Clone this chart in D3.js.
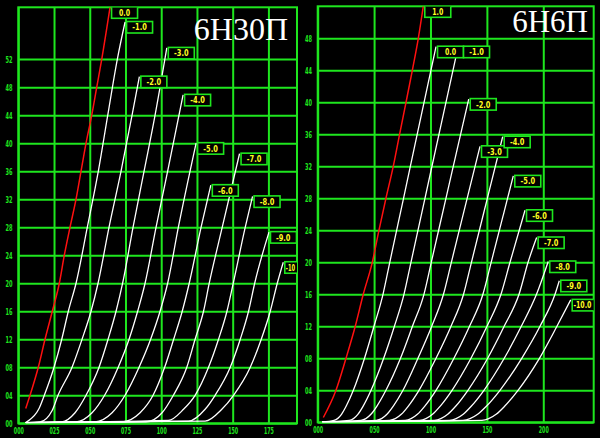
<!DOCTYPE html>
<html><head><meta charset="utf-8">
<script src="https://cdn.jsdelivr.net/npm/d3@7"></script>
<style>html,body{margin:0;padding:0;background:#000;overflow:hidden}</style>
</head><body>
<svg id="c" width="600" height="438"></svg>
<script>
// ---------- data ----------
const leftTitle = "6Н30П";
const leftXTicks = [0, 25, 50, 75, 100, 125, 150, 175];
const leftYTicks = [0, 4, 8, 12, 16, 20, 24, 28, 32, 36, 40, 44, 48, 52];
const leftXMax = 195, leftYMax = 59.4;
const leftLabels = ["0.0", "-1.0", "-2.0", "-3.0", "-4.0", "-5.0", "-6.0", "-7.0", "-8.0", "-9.0", "-10"];
const leftCurves = [
  [[5.2,2.1],[8.2,4],[14.0,8],[18.7,12],[23.8,16],[28.7,20],[32.2,24],[36.2,28],[40.4,32],[43.9,36],[47.4,40],[51.4,44],[54.9,48],[58.4,52],[64.2,59.4]],
  [[5.2,0.1],[5.9,0.2],[14.5,2.1],[18.2,4],[25.0,8],[30.4,12],[35.0,16],[40.4,20],[48.3,28],[56.0,36],[62.6,44],[69.3,52],[74.7,57.3]],
  [[5.2,0.1],[15.2,0.2],[23.6,1.8],[27.8,4],[37.6,8],[44.6,12],[50.9,16],[55.8,20],[63.5,28],[71.9,36],[79.6,44],[84.7,49.5]],
  [[5.2,0.1],[30.4,0.2],[39.7,1.5],[47.4,4],[56.5,8],[62.8,12],[68.4,16],[73.0,20],[80.3,28],[88.0,36],[95.7,44],[103.9,53.6]],
  [[5.2,0.1],[40.4,0.2],[51.6,1.5],[60.4,4],[69.9,8],[77.5,12],[83.5,16],[88.7,20],[96.4,28],[104.5,36],[115.3,46.9]],
  [[5.2,0.1],[53.7,0.2],[65.6,1.5],[74.7,4],[84.5,8],[92.6,12],[99.2,16],[104.5,20],[112.0,28],[124.4,40]],
  [[5.2,0.1],[72.6,0.2],[85.2,1.5],[94.3,4],[102.4,8],[108.7,12],[114.7,16],[119.6,20],[127.9,28],[134.7,34]],
  [[5.2,0.1],[89.4,0.2],[100.6,1.5],[108.5,4],[117.9,8],[123.7,12],[129.6,16],[133.6,20],[142.7,28],[154.8,38.5]],
  [[5.2,0.1],[105.0,0.4],[115.6,2],[123.7,4],[133.1,8],[140.1,12],[146.0,16],[150.4,20],[158.8,28],[163.9,32.4]],
  [[5.2,0.1],[119.1,0.3],[130.7,2],[137.7,4],[148.3,8],[155.3,12],[161.1,16],[165.4,20],[175.4,27.3]],
  [[5.2,0.1],[130.7,0.3],[142.4,2],[150.6,4],[162.3,8],[170.0,12],[176.3,16],[181.2,20],[185.4,23]]
];

const rightTitle = "6Н6П";
const rightXTicks = [0, 50, 100, 150, 200];
const rightYTicks = [0, 4, 8, 12, 16, 20, 24, 28, 32, 36, 40, 44, 48];
const rightXMax = 244.7, rightYMax = 52;
const rightLabels = ["1.0", "0.0", "-1.0", "-2.0", "-3.0", "-4.0", "-5.0", "-6.0", "-7.0", "-8.0", "-9.0", "-10.0"];
const rightCurves = [
  [[5.0,0.6],[16.2,4],[25.1,8],[33.3,12],[40.4,16],[48.4,20],[54.3,24],[60.5,28],[67.0,32],[72.6,36],[78.3,40],[83.9,44],[89.2,48],[93.6,52]],
  [[4,0.05],[14.5,0.25],[21.1,1],[25.2,2],[31.6,4],[41.5,8],[49.9,12],[57.9,16],[63.9,20],[76.1,28],[88.2,36],[104.9,46.95]],
  [[4,0.05],[28.0,0.25],[35.6,1],[40.2,2],[47.3,4],[58.5,8],[68.0,12],[76.5,16],[82.7,20],[95.1,28],[107.5,36],[122.6,45.7]],
  [[4,0.05],[38.4,0.25],[47.2,1],[52.4,2],[60.5,4],[73.4,8],[84.0,12],[94.2,16],[100.7,20],[113.7,28],[126.7,36],[133.9,40.4]],
  [[4,0.05],[52.0,0.25],[61.4,1],[66.9,2],[75.6,4],[88.9,8],[101.1,12],[111.5,16],[118.5,20],[132.5,28],[143.9,34.5]],
  [[4,0.05],[63.8,0.25],[74.1,1],[80.2,2],[89.8,4],[104.9,8],[118.2,12],[129.3,16],[136.3,20],[150.4,28],[164.0,35.7]],
  [[4,0.05],[77.5,0.25],[88.4,1],[94.8,2],[104.9,4],[120.8,8],[134.6,12],[146.5,16],[153.8,20],[164.7,26],[173.4,30.8]],
  [[4,0.05],[90.4,0.25],[101.8,1],[108.5,2],[119.1,4],[135.9,8],[150.1,12],[162.5,16],[170.5,20],[183.8,26.5]],
  [[4,0.05],[103.5,0.25],[115.3,1],[122.3,2],[133.2,4],[150.7,8],[165.3,12],[178.5,16],[186.5,20],[194.1,23.1]],
  [[4,0.05],[116.8,0.25],[129.0,1],[136.1,2],[147.4,4],[165.4,8],[180.5,12],[194.0,16],[204.4,20.1]],
  [[4,0.05],[128.8,0.25],[141.8,1],[149.5,2],[161.6,4],[180.9,8],[197.1,12],[210.4,16],[214.2,17.7]],
  [[4,0.05],[145.6,0.25],[158.2,1],[165.7,2],[177.6,4],[196.6,8],[212.1,12],[224.3,15.3]]
];

// ---------- drawing ----------
const GREEN = "#1ee61e";
const svg = d3.select("#c");
svg.append("rect").attr("width", 600).attr("height", 438).attr("fill", "#000");

function drawPanel(p, idx) {
  const x = d3.scaleLinear().domain([0, p.xMax]).range([p.left, p.right]);
  const y = d3.scaleLinear().domain([0, p.yMax]).range([p.bottom, p.top]);
  const W = p.right - p.left, H = p.bottom - p.top;
  const g = svg.append("g");

  const clipId = "clip" + idx;
  g.append("clipPath").attr("id", clipId).append("rect")
    .attr("x", p.left).attr("y", p.top).attr("width", W).attr("height", H);

  // y grid + labels
  const ya = g.append("g").attr("transform", `translate(${p.left},0)`)
    .call(d3.axisLeft(y).tickValues(p.yTicks).tickFormat(d3.format("02d")).tickSize(-W));
  ya.select(".domain").remove();
  ya.selectAll("line").attr("stroke", GREEN).attr("stroke-width", 2);
  ya.selectAll("text").attr("x", p.yLabelDx).attr("dy", "0.36em")
    .attr("text-anchor", "middle").attr("fill", GREEN)
    .attr("font-family", "DejaVu Sans").attr("font-weight", "bold").attr("font-size", 9.5)
    .attr("textLength", 7).attr("lengthAdjust", "spacingAndGlyphs");

  // x grid + labels
  const xa = g.append("g").attr("transform", `translate(0,${p.bottom})`)
    .call(d3.axisBottom(x).tickValues(p.xTicks).tickFormat(d3.format("03d")).tickSize(-H));
  xa.select(".domain").remove();
  xa.selectAll("line").attr("stroke", GREEN).attr("stroke-width", 2);
  xa.selectAll("text").attr("y", p.xLabelDy).attr("dy", "0.36em")
    .attr("text-anchor", "middle").attr("fill", GREEN)
    .attr("font-family", "DejaVu Sans").attr("font-weight", "bold").attr("font-size", 9.5)
    .attr("textLength", 10).attr("lengthAdjust", "spacingAndGlyphs");

  // border
  g.append("rect").attr("x", p.left).attr("y", p.top).attr("width", W).attr("height", H)
    .attr("fill", "none").attr("stroke", GREEN).attr("stroke-width", 2);

  // title
  g.append("text").attr("x", p.titleX).attr("y", p.titleY).attr("text-anchor", "end")
    .attr("fill", "#fff").attr("font-family", "Liberation Serif").attr("font-size", p.titleSize)
    .text(p.title);

  // curves
  const line = d3.line().x(d => x(d[0])).y(d => y(d[1])).curve(d3.curveMonotoneX);
  const cg = g.append("g").attr("clip-path", `url(#${clipId})`);
  p.curves.forEach((c, i) => {
    cg.append("path").attr("d", line(c)).attr("fill", "none")
      .attr("stroke", i === 0 ? "#ff1010" : "#fff")
      .attr("stroke-width", i === 0 ? 1.5 : 1.3);
  });

  // curve labels
  const lg = g.append("g").attr("clip-path", `url(#${clipId})`);
  const bw = 26, bh = 11.5;
  let prev = null;
  p.curves.forEach((c, i) => {
    const end = c[c.length - 1];
    let bx = x(end[0]) + 1.5, by = y(end[1]) - 0.5;
    if (prev && bx < prev.x + bw && bx + bw > prev.x && by - prev.y > 0 && by - prev.y < bh * 1.2) {
      bx = prev.x + bw; by = prev.y;
    }
    prev = { x: bx, y: by };
    lg.append("rect").attr("x", bx).attr("y", by).attr("width", bw).attr("height", bh)
      .attr("fill", "#000").attr("stroke", GREEN).attr("stroke-width", 1.6);
    const visRight = Math.min(bx + bw, p.right - 1);
    const tl = Math.min(p.labels[i].length * 3.5 + 0.5, visRight - bx - 2);
    lg.append("text").attr("x", (bx + visRight) / 2).attr("y", by + bh / 2).attr("dy", "0.36em")
      .attr("text-anchor", "middle").attr("fill", "#ffff20")
      .attr("font-family", "DejaVu Sans").attr("font-weight", "bold").attr("font-size", 9)
      .attr("textLength", tl).attr("lengthAdjust", "spacingAndGlyphs")
      .text(p.labels[i]);
  });
}

drawPanel({
  left: 18.3, right: 297, top: 7.3, bottom: 423.3,
  xMax: leftXMax, yMax: leftYMax, xTicks: leftXTicks, yTicks: leftYTicks,
  curves: leftCurves, labels: leftLabels, title: leftTitle,
  titleX: 288, titleY: 40, titleSize: 32, yLabelDx: -9.3, xLabelDy: 7.5
}, 0);

drawPanel({
  left: 317.7, right: 593.7, top: 6.3, bottom: 422.3,
  xMax: rightXMax, yMax: rightYMax, xTicks: rightXTicks, yTicks: rightYTicks,
  curves: rightCurves, labels: rightLabels, title: rightTitle,
  titleX: 588, titleY: 32, titleSize: 31, yLabelDx: -9.2, xLabelDy: 7
}, 1);
</script>
</body></html>
